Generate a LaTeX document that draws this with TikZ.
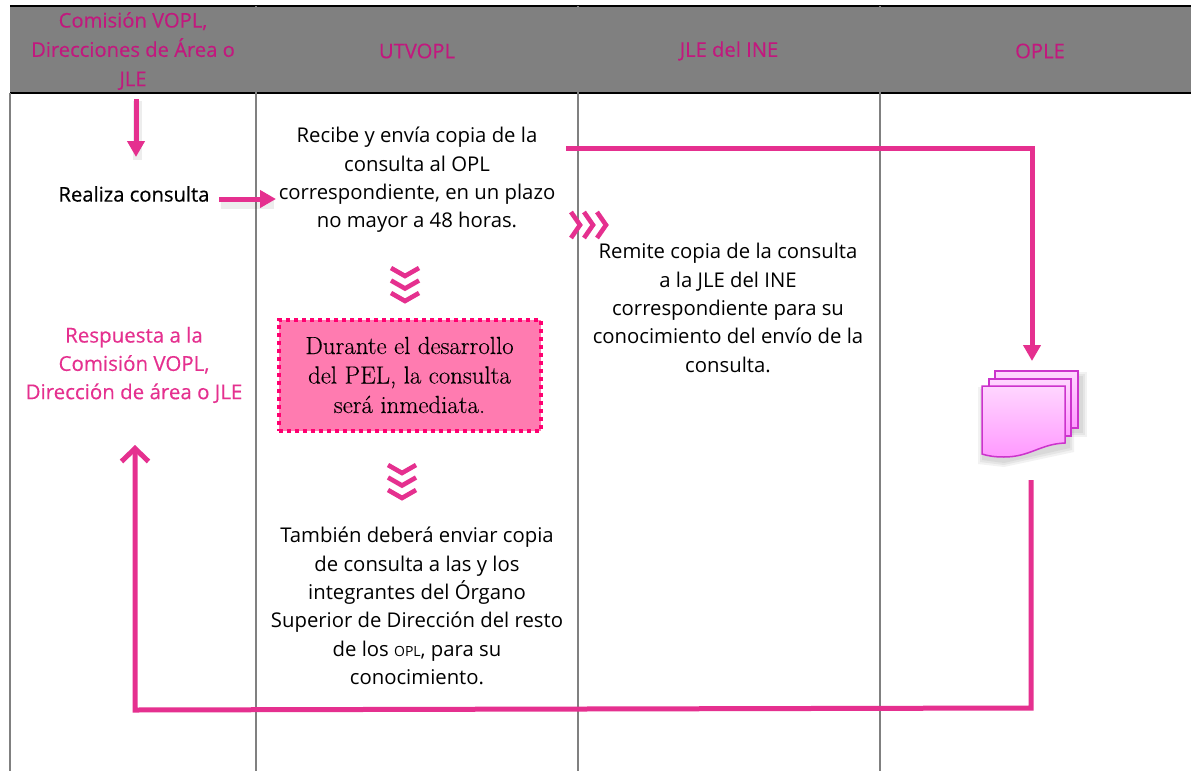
\documentclass[tikz,border=0pt]{standalone}
\usepackage{fontspec}
\setmainfont{Open Sans}
\newfontfamily\lmfont[FakeBold=0.15]{Latin Modern Roman}
\newfontfamily\heavyfont[FakeBold=0.4]{Open Sans}
\newfontfamily\midfont[FakeBold=0.25]{Open Sans}
\usetikzlibrary{arrows.meta,calc}
\definecolor{hdgray}{HTML}{808080}
\definecolor{hdpink}{HTML}{C2187E}
\definecolor{mag}{HTML}{E5308F}
\definecolor{boxfill}{HTML}{FF7BB0}
\definecolor{boxline}{HTML}{FF0070}
\definecolor{docline}{HTML}{CC33CC}
\definecolor{doctop}{HTML}{FFD6FF}
\definecolor{docbot}{HTML}{FF99FF}
\tikzset{
  hdtext/.style={align=center,text=hdpink,font=\midfont\fontsize{20.2}{29.3}\selectfont,inner sep=0pt},
  bodytext/.style={align=center,text=black,font=\fontsize{20.3}{28.3}\selectfont,inner sep=0pt},
  pinktext/.style={align=center,text=mag,font=\midfont\fontsize{20.5}{28.3}\selectfont,inner sep=0pt},
  colline/.style={draw=hdgray,line width=1.3pt},
  flow/.style={draw=mag,line width=5pt},
  flowhead/.style={flow,-{Triangle[length=16pt,width=17pt]}},
  openhead/.style={flow,-{Straight Barb[length=13pt,width=27pt,line width=5pt]}},
  shadowline/.style={draw=black,opacity=.07,line width=9pt},
  chev/.style={draw=mag,line width=4.6pt,line cap=butt,line join=miter},
  docsheet/.style={draw=docline,line width=1.5pt,top color=doctop,bottom color=docbot},
  docshadow/.style={fill=black,opacity=.05},
}
\newcommand{\downchev}[2]{%
  \foreach \dy in {0,12.5,25}{%
    \draw[chev] (#1-14,#2+\dy) -- (#1,#2+\dy+8) -- (#1+14,#2+\dy);}}
\newcommand{\rightchev}[2]{%
  \foreach \dx in {0,13,26}{%
    \draw[chev] (#1+\dx,#2-13) -- (#1+\dx+9,#2) -- (#1+\dx,#2+13);}}
\begin{document}
\begin{tikzpicture}[x=1pt,y=-1pt]
\useasboundingbox (0,0) rectangle (1191,771);
\fill[white] (0,0) rectangle (1191,771);
% header band
\fill[hdgray] (10,6) rectangle (1191,93);
\draw[black,line width=1.6pt] (10,6) -- (1191,6);
\draw[black,line width=1.6pt] (10,93) -- (1191,93);
% column rules
\draw[colline] (10,93) -- (10,771);
\draw[colline] (256,6) -- (256,771);
\draw[colline] (578,6) -- (578,771);
\draw[colline] (880,6) -- (880,771);
% headers
\node[hdtext] (h1) at (133,51) {Comisión VOPL,\\Direcciones de Área o\\JLE};
\node[hdtext] (h2) at (417,51) {UTVOPL};
\node[hdtext] (h3) at (729,51) {JLE del INE};
\node[hdtext] (h4) at (1040,51) {OPLE};
% texts
\node[bodytext,font=\heavyfont\fontsize{20.2}{28.3}\selectfont] (consulta) at (134,194) {Realiza consulta};
\node[bodytext] (recibe) at (417,180) {Recibe y envía copia de la\\consulta al OPL\\correspondiente, en un plazo\\no mayor a 48 horas.};
\node[bodytext] (remite) at (728,308) {Remite copia de la consulta\\a la JLE del INE\\correspondiente para su\\conocimiento del envío de la\\consulta.};
\node[pinktext] (resp) at (134,365) {Respuesta a la\\Comisión VOPL,\\Dirección de área o JLE};
\node[bodytext] (tamb) at (417,606) {También deberá enviar copia\\de consulta a las y los\\integrantes del Órgano\\Superior de Dirección del resto\\de los {\fontsize{14}{28}\selectfont OPL}, para su\\conocimiento.};
% dotted box
\node[draw=boxline,fill=boxfill,line width=4pt,dash pattern=on 4pt off 4pt,
      minimum width=262pt,minimum height=111pt,inner sep=0pt,align=center,
      font=\lmfont\fontsize{24.8}{29.5}\selectfont] (box) at (409.5,375)
      {Durante el desarrollo\\del PEL, la consulta\\será inmediata.};
% anchors for free ends
\coordinate (a1s) at (136,99);
\coordinate (a1e) at (136,157);
\coordinate (a2s) at (219,199);
\coordinate (a2e) at (276,199);
\coordinate (a3s) at (566,148);
\coordinate (a3c) at (1032,148);
\coordinate (a3e) at (1032,361);
\coordinate (a4s) at (1031,480);
\coordinate (a4c) at (1031,708);
\coordinate (a4d) at (135,710);
\coordinate (a4e) at (135,445);
% shadows
\draw[shadowline] (137,101) -- (137,160);
\draw[shadowline] (221,204) -- (274,204);
% connectors
\draw[flowhead] (a1s) -- (a1e);
\draw[flowhead] (a2s) -- (a2e);
\draw[flowhead] (a3s) -- (a3c) -- (a3e);
\draw[openhead] (a4s) -- (a4c) -- (a4d) -- (a4e);
% chevrons
\rightchev{571}{225}
\downchev{405}{268}
\downchev{402}{465}
% document stack
\foreach \gr in {0,2,4}{
  \path[docshadow] (995-\gr+3,371+5-\gr) rectangle (1078+5+\gr,428+5+\gr);
  \path[docshadow] (982-\gr,386+5-\gr) -- (1065+5+\gr,386+5-\gr) -- (1065+5+\gr,443+5+\gr)
     -- (1004,457+6+\gr) -- (982-\gr,454+6+\gr) -- cycle;
}
\path[docsheet] (995,371) rectangle (1078,428);
\path[docsheet] (989,379) rectangle (1071,436);
\path[docsheet] (982,386) -- (1065,386) -- (1065,443)
   .. controls (1040,444) and (1030,457) .. (1004,457)
   .. controls (995,457) and (988,456) .. (982,454) -- cycle;
\end{tikzpicture}
\end{document}
